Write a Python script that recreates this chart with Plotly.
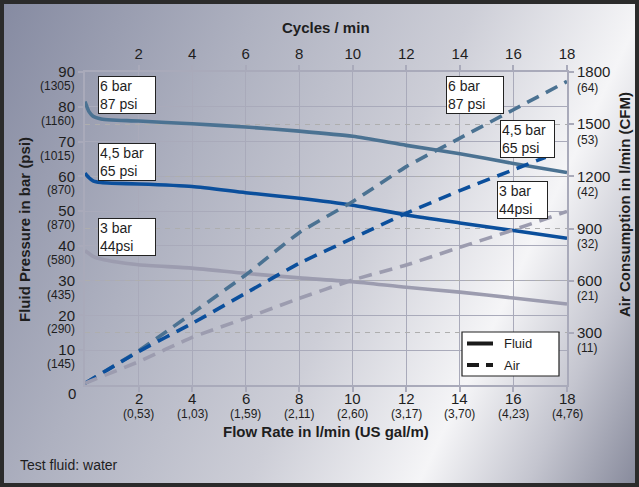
import base64
import plotly.graph_objects as go

# ---------------- data ----------------
flow_x = [0, 0.15, 0.3, 0.6, 1, 2, 4, 6, 8, 10, 12, 14, 16, 18]
fluid_6bar = [81.5, 78.6, 77.3, 76.5, 76.2, 75.9, 75.1, 74.2, 73.0, 71.5, 68.9, 66.5, 63.7, 61.1]
fluid_45bar = [60.9, 59.6, 58.7, 58.2, 58.0, 57.8, 57.1, 55.3, 53.7, 51.7, 48.9, 46.6, 44.4, 42.2]
fluid_3bar = [38.6, 37.8, 37.0, 36.2, 35.6, 34.6, 33.6, 32.1, 30.8, 29.7, 28.1, 26.7, 25.0, 23.3]

air_x = [0, 2, 4, 6, 8, 10, 12, 14, 16, 18]
air_6bar = [10, 196, 412, 633, 876, 1055, 1256, 1420, 1583, 1746]
air_45bar_x = [0, 2, 4, 6, 8, 10, 12, 14, 16, 17.2]
air_45bar = [10, 192, 354, 528, 700, 844, 988, 1118, 1238, 1310]
air_3bar = [10, 134, 274, 384, 498, 604, 690, 792, 892, 998]

flow_ticks = [2, 4, 6, 8, 10, 12, 14, 16, 18]
gal_labels = ["(0,53)", "(1,03)", "(1,59)", "(2,11)", "(2,60)", "(3,17)", "(3,70)", "(4,23)", "(4,76)"]
cycle_ticks = [2, 4, 6, 8, 10, 12, 14, 16, 18]
bar_ticks = [10, 20, 30, 40, 50, 60, 70, 80, 90]
psi_labels = ["(145)", "(290)", "(435)", "(580)", "(870)", "(870)", "(1015)", "(1160)", "(1305)"]
air_ticks = [300, 600, 900, 1200, 1500, 1800]
cfm_labels = ["(11)", "(21)", "(32)", "(42)", "(53)", "(64)"]

C6 = "#4b7292"
C45 = "#0b4f9c"
C3 = "#9c9caf"
FONT = "Arial, Liberation Sans, sans-serif"
TXT = "#1e1e1e"
GRID = "#a9aaba"
DASH = "13px,8px"

fig = go.Figure()

# fluid (solid)
for ys, col in [(fluid_6bar, C6), (fluid_45bar, C45), (fluid_3bar, C3)]:
    fig.add_trace(go.Scatter(x=flow_x, y=ys, mode="lines", showlegend=False,
                             line=dict(color=col, width=3.6, shape="spline", smoothing=0.6),
                             xaxis="x", yaxis="y", hoverinfo="skip"))
# air (dashed)
for xs, ys, col in [(air_x, air_6bar, C6), (air_45bar_x, air_45bar, C45), (air_x, air_3bar, C3)]:
    fig.add_trace(go.Scatter(x=xs, y=ys, mode="lines", showlegend=False,
                             line=dict(color=col, width=3.6, dash=DASH, shape="spline", smoothing=0.4),
                             xaxis="x", yaxis="y2", hoverinfo="skip"))
# dummy trace on xaxis2 to activate top axis
fig.add_trace(go.Scatter(x=[None], y=[None], xaxis="x2", yaxis="y", showlegend=False))

# background gradient image
svg = """<svg xmlns='http://www.w3.org/2000/svg' width='639' height='487' viewBox='0 0 639 487' preserveAspectRatio='none'>
<defs><linearGradient id='g' gradientUnits='userSpaceOnUse' x1='0' y1='0' x2='710' y2='336'>
<stop offset='0' stop-color='#858aa1'/>
<stop offset='0.3' stop-color='#aeb1c0'/>
<stop offset='0.55' stop-color='#cdced7'/>
<stop offset='0.745' stop-color='#f5f5f7'/>
<stop offset='0.87' stop-color='#c4c5cf'/>
<stop offset='1' stop-color='#85889a'/>
</linearGradient></defs>
<rect x='0' y='0' width='639' height='487' fill='url(#g)'/>
</svg>"""
uri = "data:image/svg+xml;base64," + base64.b64encode(svg.encode()).decode()

W, H = 639, 487
L, R, T, B = 85, 72, 72, 102
PW, PH = W - L - R, H - T - B


def px(xp):
    return (xp - L) / PW


def py(yp):
    return (H - B - yp) / PH


fig.add_layout_image(dict(source=uri, xref="paper", yref="paper",
                          x=-L / PW, y=1 + T / PH, sizex=W / PW, sizey=H / PH,
                          sizing="stretch", xanchor="left", yanchor="top", layer="below"))

shapes = []
# frame
shapes.append(dict(type="rect", xref="paper", yref="paper",
                   x0=px(2), x1=px(W - 2), y0=py(H - 2), y1=py(2),
                   line=dict(color="#2b2b2b", width=4), layer="above"))
# legend box
shapes.append(dict(type="rect", xref="paper", yref="paper",
                   x0=px(462), x1=px(559), y0=py(376), y1=py(332),
                   line=dict(color="#222", width=1.2), fillcolor="white", layer="above"))
shapes.append(dict(type="line", xref="paper", yref="paper",
                   x0=px(467), x1=px(493), y0=py(343.5), y1=py(343.5),
                   line=dict(color="#1a1a1a", width=4), layer="above"))
shapes.append(dict(type="line", xref="paper", yref="paper",
                   x0=px(467), x1=px(493), y0=py(365), y1=py(365),
                   line=dict(color="#1a1a1a", width=4, dash="12px,7px"), layer="above"))

axis_common = dict(showline=True, linecolor=GRID, linewidth=2, ticks="outside",
                   ticklen=5, tickwidth=1.5, tickcolor=GRID, zeroline=False,
                   tickfont=dict(family=FONT, size=15, color=TXT))

fig.update_layout(
    width=W, height=H,
    margin=dict(l=L, r=R, t=T, b=B),
    paper_bgcolor="#b8bac6", plot_bgcolor="white",
    font=dict(family=FONT, color=TXT),
    xaxis=dict(range=[0, 18], tickvals=flow_ticks, showgrid=True, gridcolor=GRID, gridwidth=1.3,
               showticklabels=False, **axis_common),
    xaxis2=dict(range=[0, 18], tickvals=cycle_ticks, overlaying="x", side="top",
                showgrid=False, anchor="y", **axis_common),
    yaxis=dict(range=[0, 90], tickvals=bar_ticks, showgrid=True, gridcolor=GRID, gridwidth=1.3,
               **axis_common),
    yaxis2=dict(range=[0, 1800], tickvals=air_ticks, overlaying="y", side="right", anchor="x",
                showgrid=True, gridcolor="#aeaeae", gridwidth=1, griddash="5px,5px",
                **axis_common),
    showlegend=False,
    shapes=shapes,
)

ann = []
small = dict(size=12, family=FONT, color=TXT)
big = dict(size=15, family=FONT, color=TXT)
# left parentheticals
for v, t in zip(bar_ticks, psi_labels):
    ann.append(dict(x=0, xref="paper", y=v, yref="y", text=t, showarrow=False,
                    xanchor="right", yanchor="middle", xshift=-8, yshift=-14, font=small))
ann.append(dict(x=0, xref="paper", y=0, yref="y", text="0", showarrow=False,
                xanchor="right", yanchor="middle", xshift=-7, yshift=-8, font=big))
# bottom labels
for v, t in zip(flow_ticks, gal_labels):
    ann.append(dict(x=v, xref="x", y=0, yref="paper", text=str(v), showarrow=False,
                    xanchor="center", yanchor="middle", yshift=-13, font=big))
    ann.append(dict(x=v, xref="x", y=0, yref="paper", text=t, showarrow=False,
                    xanchor="center", yanchor="middle", yshift=-29, font=small))
# right parentheticals
for v, t in zip(air_ticks, cfm_labels):
    ann.append(dict(x=1, xref="paper", y=v, yref="y2", text=t, showarrow=False,
                    xanchor="left", yanchor="middle", xshift=8, yshift=-15.5, font=small))
# titles
ann.append(dict(x=0.5, xref="paper", y=1 + 45 / PH, yref="paper", text="<b>Cycles / min</b>",
                xanchor="center", yanchor="middle", showarrow=False, font=big))
ann.append(dict(x=0.5, xref="paper", y=-46 / PH, yref="paper", text="<b>Flow Rate in l/min (US gal/m)</b>",
                xanchor="center", yanchor="middle", showarrow=False, font=big))
ann.append(dict(x=px(24), xref="paper", y=py(230), yref="paper",
                text="<b>Fluid Pressure in bar (psi)</b>", textangle=-90,
                xanchor="center", yanchor="middle", showarrow=False, font=big))
ann.append(dict(x=px(624), xref="paper", y=py(205), yref="paper",
                text="<b>Air Consumption in l/min (CFM)</b>", textangle=-90,
                xanchor="center", yanchor="middle", showarrow=False, font=big))
ann.append(dict(x=px(18), xref="paper", y=py(465), yref="paper", text="Test fluid: water",
                xanchor="left", yanchor="middle", showarrow=False,
                font=dict(size=14, family=FONT, color=TXT)))
# legend text
ann.append(dict(x=px(502), xref="paper", y=py(343.5), yref="paper", text="Fluid",
                xanchor="left", yanchor="middle", showarrow=False,
                font=dict(size=13, family=FONT, color=TXT)))
ann.append(dict(x=px(502), xref="paper", y=py(365), yref="paper", text="Air",
                xanchor="left", yanchor="middle", showarrow=False,
                font=dict(size=13, family=FONT, color=TXT)))

# label boxes
boxes = [
    (0.49, 88.8, "6 bar<br>87 psi", 54),
    (0.49, 69.6, "4,5 bar<br>65 psi", 54),
    (0.49, 48.0, "3 bar<br>44psi", 54),
    (13.48, 88.8, "6 bar<br>87 psi", 54),
    (15.5, 76.2, "4,5 bar<br>65 psi", 51),
    (15.38, 58.7, "3 bar<br>44psi", 47),
]
for bx, by, t, w in boxes:
    ann.append(dict(x=bx, xref="x", y=by, yref="y", text=t, showarrow=False,
                    xanchor="left", yanchor="top", align="left", width=w, height=34,
                    bgcolor="white", bordercolor="#222", borderwidth=1, borderpad=1,
                    font=dict(size=14, family=FONT, color=TXT)))

fig.update_layout(annotations=ann)
fig.write_html("out.html", config={"displayModeBar": False},
               post_script="document.body.style.margin='0';document.body.style.padding='0';"
                           "document.body.style.overflow='hidden';")
